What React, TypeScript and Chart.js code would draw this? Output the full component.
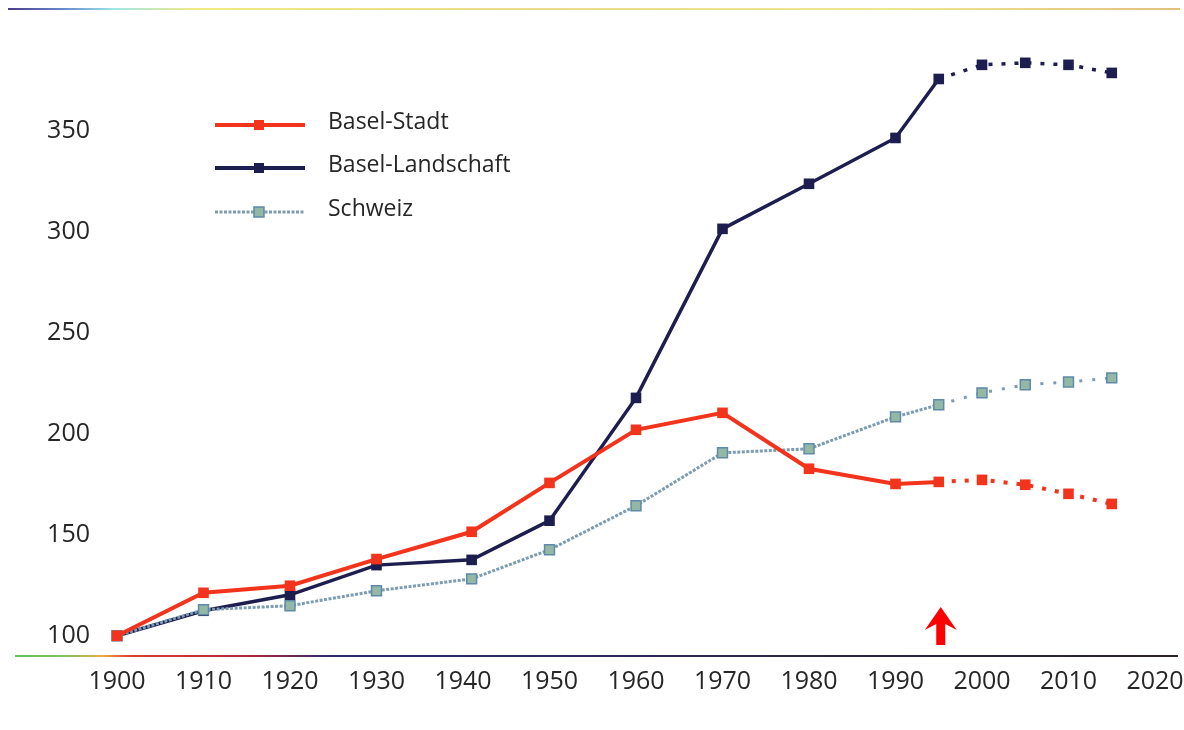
import React, { useEffect, useRef } from "react";
import { Chart, registerables } from "chart.js";

Chart.register(...registerables);

const years = [1900, 1910, 1920, 1930, 1941, 1950, 1960, 1970, 1980, 1990, 1995, 2000, 2005, 2010, 2015];
const baselStadt = [100, 121.3, 124.8, 138, 151.5, 175.7, 202, 210.4, 182.7, 175.2, 176.2, 177.2, 174.8, 170.3, 165.3];
const baselLandschaft = [100, 112.4, 120.3, 135, 137.6, 157, 217.8, 301.5, 323.8, 346.5, 375.7, 382.7, 383.7, 382.7, 378.7];
const schweiz = [100, 112.9, 114.9, 122.3, 128.2, 142.6, 164.4, 190.6, 192.6, 208.4, 214.4, 220.3, 224.3, 225.7, 227.7];
const seriesNames = ["Basel-Stadt", "Basel-Landschaft", "Schweiz"];
const xTickValues = [1900, 1910, 1920, 1930, 1940, 1950, 1960, 1970, 1980, 1990, 2000, 2010, 2020];
const yTickValues = [100, 150, 200, 250, 300, 350];
const projectionStart = 1995;
const arrowYear = 1995;

const RED = "#f2341c";
const NAVY = "#1d1e4f";
const SWISS = "#7c9cb2";
const SWISS_FILL = "#93b8a6";
const FONT = "'Open Sans', 'DejaVu Sans', sans-serif";

const toPoints = (vals: number[]) => years.map((y, i) => ({ x: y, y: vals[i] }));

const decorPlugin = {
  id: "decor",
  beforeDatasetsDraw(chart: any) {
    const ctx = chart.ctx;
    const area = chart.chartArea;
    ctx.save();
    const g1 = ctx.createLinearGradient(8, 0, 1180, 0);
    g1.addColorStop(0, "#4b3a8c");
    g1.addColorStop(0.05, "#6a8fd0");
    g1.addColorStop(0.09, "#9ee6e6");
    g1.addColorStop(0.16, "#f1ea86");
    g1.addColorStop(0.45, "#eadb8a");
    g1.addColorStop(0.75, "#eee890");
    g1.addColorStop(1, "#e2c07e");
    ctx.strokeStyle = g1;
    ctx.lineWidth = 2;
    ctx.beginPath();
    ctx.moveTo(8, 9);
    ctx.lineTo(1180, 9);
    ctx.stroke();
    const yb = area.bottom;
    const g2 = ctx.createLinearGradient(15, 0, 1178, 0);
    g2.addColorStop(0, "#62c062");
    g2.addColorStop(0.05, "#8fbf5a");
    g2.addColorStop(0.075, "#e8b040");
    g2.addColorStop(0.1, "#e03a30");
    g2.addColorStop(0.2, "#b02838");
    g2.addColorStop(0.27, "#2b2a6a");
    g2.addColorStop(0.6, "#2a2850");
    g2.addColorStop(1, "#2a2226");
    ctx.strokeStyle = g2;
    ctx.lineWidth = 2;
    ctx.beginPath();
    ctx.moveTo(15, yb);
    ctx.lineTo(1178, yb);
    ctx.stroke();
    ctx.restore();
  },
  afterDraw(chart: any) {
    const ctx = chart.ctx;
    ctx.save();
    const colors = [RED, NAVY, SWISS];
    const fills = [RED, NAVY, SWISS_FILL];
    const rows = [125, 168, 212];
    seriesNames.forEach((name, i) => {
      const y = rows[i];
      ctx.strokeStyle = colors[i];
      ctx.lineWidth = i === 2 ? 3 : 4;
      ctx.setLineDash(i === 2 ? [3, 1.5] : []);
      ctx.beginPath();
      ctx.moveTo(215, y);
      ctx.lineTo(305, y);
      ctx.stroke();
      ctx.setLineDash([]);
      ctx.fillStyle = fills[i];
      ctx.fillRect(254, y - 5, 10, 10);
      if (i === 2) {
        ctx.strokeStyle = "#5f8aa8";
        ctx.lineWidth = 1.5;
        ctx.strokeRect(254, y - 5, 10, 10);
      }
      ctx.fillStyle = "#262626";
      ctx.font = `23px ${FONT}`;
      ctx.textAlign = "left";
      ctx.textBaseline = "middle";
      ctx.fillText(name, 328, y - 3);
    });
    const ax = chart.scales.x.getPixelForValue(arrowYear) + 2;
    ctx.fillStyle = "#ff0000";
    ctx.beginPath();
    ctx.moveTo(ax, 607);
    ctx.lineTo(ax + 16, 630);
    ctx.lineTo(ax + 4.5, 624);
    ctx.lineTo(ax + 4.5, 645);
    ctx.lineTo(ax - 4.5, 645);
    ctx.lineTo(ax - 4.5, 624);
    ctx.lineTo(ax - 16, 630);
    ctx.closePath();
    ctx.fill();
    ctx.restore();
  },
};

const projDash = (dash: number[]) => (c: any) =>
  c.p0.parsed.x >= projectionStart ? dash : undefined;

export default function App() {
  const ref = useRef<HTMLCanvasElement | null>(null);
  useEffect(() => {
    if (!ref.current) return;
    const chart = new Chart(ref.current, {
      type: "line",
      data: {
        datasets: [
          {
            label: seriesNames[0],
            data: toPoints(baselStadt),
            borderColor: RED,
            backgroundColor: RED,
            borderWidth: 4,
            pointStyle: "rect",
            pointRadius: 7.5,
            pointBorderWidth: 0,
            clip: false,
            segment: { borderDash: projDash([4, 9]) },
          },
          {
            label: seriesNames[2],
            data: toPoints(schweiz),
            borderColor: SWISS,
            backgroundColor: SWISS_FILL,
            borderWidth: 3,
            borderDash: [3, 1.5],
            pointStyle: "rect",
            pointRadius: 7,
            pointBorderColor: "#5f8aa8",
            pointBorderWidth: 1.5,
            clip: false,
            segment: { borderDash: projDash([3, 10]) },
          },
          {
            label: seriesNames[1],
            data: toPoints(baselLandschaft),
            borderColor: NAVY,
            backgroundColor: NAVY,
            borderWidth: 3.5,
            pointStyle: "rect",
            pointRadius: 7.5,
            pointBorderWidth: 0,
            clip: false,
            segment: { borderDash: projDash([4, 9]) },
          },
        ],
      },
      options: {
        responsive: false,
        animation: false,
        layout: { padding: { top: 40, right: 29, left: 0, bottom: 0 } },
        plugins: { legend: { display: false }, tooltip: { enabled: false } },
        scales: {
          x: {
            type: "linear",
            min: 1900,
            max: 2020,
            grid: { display: false, drawTicks: false },
            border: { display: false },
            afterFit: (s: any) => {
              s.height = 74;
              s.paddingLeft = 0;
              s.paddingRight = 0;
            },
            afterBuildTicks: (s: any) => {
              s.ticks = xTickValues.map((v) => ({ value: v }));
            },
            ticks: {
              padding: 11,
              color: "#262626",
              font: { family: FONT, size: 25 },
              maxRotation: 0,
              autoSkip: false,
              callback: (v: any) => String(v),
            },
          },
          y: {
            type: "linear",
            min: 90,
            max: 395,
            grid: { display: false, drawTicks: false },
            border: { display: false },
            afterFit: (s: any) => {
              s.width = 117;
              s.paddingTop = 0;
              s.paddingBottom = 0;
            },
            afterBuildTicks: (s: any) => {
              s.ticks = yTickValues.map((v) => ({ value: v }));
            },
            ticks: {
              padding: 27,
              color: "#262626",
              font: { family: FONT, size: 25 },
              callback: (v: any) => String(v),
            },
          },
        },
      },
      plugins: [decorPlugin],
    } as any);
    return () => chart.destroy();
  }, []);
  return (
    <div style={{ position: "absolute", left: 0, top: 0, width: 1184, height: 730, background: "#fff" }}>
      <canvas ref={ref} width={1184} height={730} />
    </div>
  );
}
